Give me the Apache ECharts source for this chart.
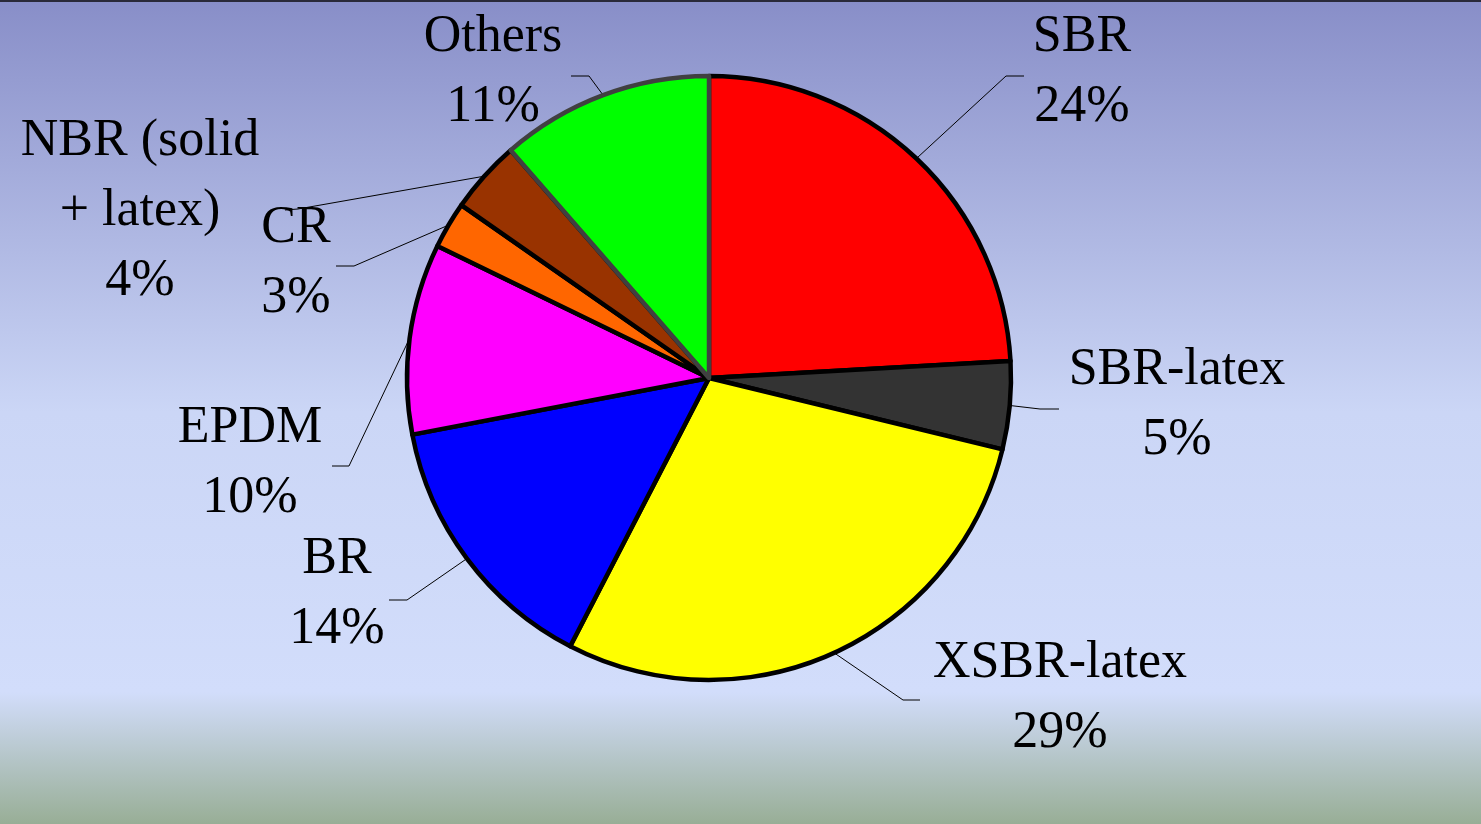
<!DOCTYPE html>
<html>
<head>
<meta charset="utf-8">
<script src="https://cdn.jsdelivr.net/npm/echarts@6/dist/echarts.min.js"></script>
<style>
  html, body { margin: 0; padding: 0; }
  #chart { width: 1481px; height: 824px; }
</style>
</head>
<body>
<div id="chart"></div>
<script>
// data (clockwise from 12 o'clock)
const names = ['SBR', 'SBR-latex', 'XSBR-latex', 'BR', 'EPDM', 'CR', 'NBR (solid\n+ latex)', 'Others'];
const shares = [24.1, 4.7, 28.8, 14.4, 10.2, 2.5, 3.9, 11.4];
const colors = ['#ff0000', '#333333', '#ffff00', '#0000ff', '#ff00ff', '#ff6600', '#993300', '#00ff00'];

// label placement: text block centre, leader elbow, leader end
const labelPos = [
  { x: 1082, y: 72,  elbow: [1006, 76],  end: [1024, 76] },
  { x: 1177, y: 405, elbow: [1040, 409], end: [1059, 409] },
  { x: 1060, y: 698, elbow: [903, 700],  end: [920, 700] },
  { x: 337,  y: 594, elbow: [407, 600],  end: [389, 600] },
  { x: 250,  y: 463, elbow: [349, 466],  end: [332, 466] },
  { x: 296,  y: 263, elbow: [354, 266],  end: [336, 266] },
  { x: 140,  y: 211, elbow: [298, 209],  end: [285, 210] },
  { x: 493,  y: 72,  elbow: [589, 76],   end: [571, 76] }
];

const chart = echarts.init(document.getElementById('chart'), null, { renderer: 'canvas' });

const option = {
  backgroundColor: new echarts.graphic.LinearGradient(0, 0, 0, 1, [
    { offset: 0, color: '#888ec8' },
    { offset: 0.5, color: '#cbd6f6' },
    { offset: 0.84, color: '#d2ddfb' },
    { offset: 1, color: '#98ae96' }
  ]),
  graphic: [{
    type: 'rect',
    shape: { x: 0, y: 0, width: 1481, height: 2 },
    style: { fill: '#2a2a3a' }
  }],
  series: [{
    type: 'pie',
    center: [709, 378],
    radius: [0, 302],
    startAngle: 90,
    clockwise: true,
    animation: false,
    avoidLabelOverlap: false,
    data: names.map((n, i) => ({
      name: n,
      value: shares[i],
      itemStyle: {
        color: colors[i],
        borderColor: i === names.length - 1 ? '#404040' : '#000000',
        borderWidth: 4.5
      }
    })),
    label: {
      show: true,
      position: 'outside',
      formatter: p => p.name + '\n' + Math.round(p.value) + '%',
      fontFamily: 'Liberation Serif',
      fontSize: 52,
      lineHeight: 70,
      color: '#000000',
      align: 'center'
    },
    labelLine: {
      show: true,
      lineStyle: { color: '#000000', width: 1 }
    },
    labelLayout: function (params) {
      const lp = labelPos[params.dataIndex];
      const pts = params.labelLinePoints;
      return {
        x: lp.x,
        y: lp.y,
        align: 'center',
        verticalAlign: 'middle',
        labelLinePoints: [pts[0], lp.elbow, lp.end]
      };
    },
    emphasis: { disabled: true }
  }]
};

chart.setOption(option);
</script>
</body>
</html>
